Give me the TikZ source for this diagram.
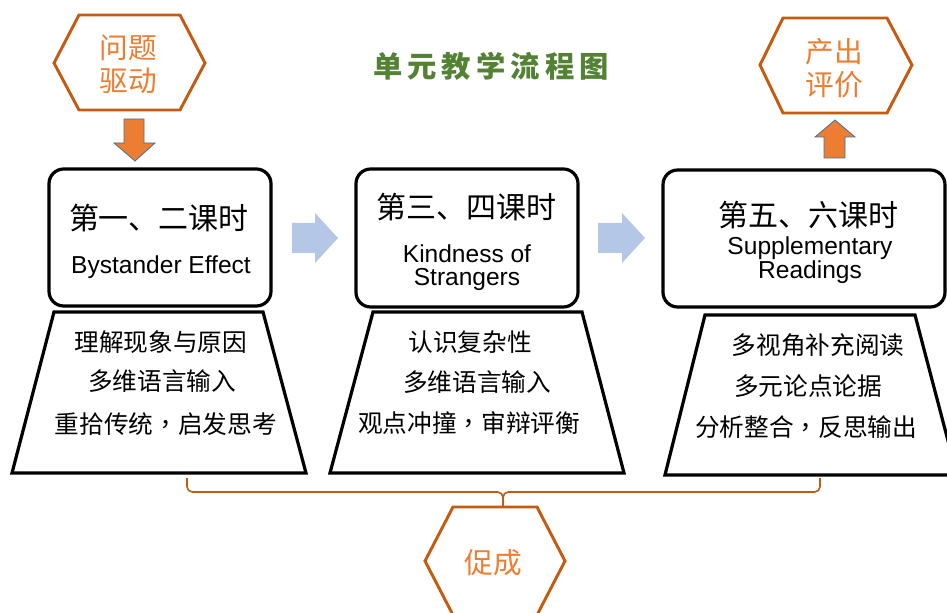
\documentclass[tikz,border=0pt]{standalone}
\usepackage{fontspec}
\setmainfont{Liberation Sans}
\newfontfamily\cjk{Noto Sans CJK SC}
\newfontfamily\cjktc{Noto Sans CJK TC}
\newcommand{\midcomma}{{\cjktc ，}}
\definecolor{hexline}{HTML}{C55A11}
\definecolor{hextext}{HTML}{ED7D31}
\definecolor{arrfill}{HTML}{ED7D31}
\definecolor{arrline}{HTML}{41719C}
\definecolor{bluearr}{HTML}{B4C7E7}
\definecolor{titlegreen}{HTML}{548235}
\tikzset{
  boxline/.style={draw=black, line width=2.4pt, rounded corners=11pt, fill=white},
  trapline/.style={draw=black, line width=2.4pt, fill=white},
  hexshape/.style={draw=hexline, line width=2.2pt, fill=white},
  hexlabel/.style={text=hextext, align=center, inner sep=0pt, font=\cjk\fontsize{21.5pt}{24.5pt}\selectfont},
  headtext/.style={inner sep=0pt, font=\cjk\fontsize{22.5pt}{26pt}\selectfont},
  entext/.style={inner sep=0pt, align=center, font=\fontsize{18.4pt}{17.5pt}\selectfont},
  traptext/.style={inner sep=0pt, font=\cjk\fontsize{18.5pt}{22pt}\selectfont},
  blockarrow/.style={fill=bluearr, draw=none},
  orangearrow/.style={fill=arrfill, draw=arrline, line width=0.6pt},
  bracelink/.style={draw=hexline, line width=1.2pt, rounded corners=4pt},
}
\begin{document}
\begin{tikzpicture}[x=0.75pt, y=-0.75pt]
\useasboundingbox (0,0) rectangle (947,613);
\clip (0,0) rectangle (947,613);
\fill[white] (0,0) rectangle (947,613);

% title
\node[inner sep=0pt, text=titlegreen, font=\cjk\bfseries\fontsize{22pt}{24pt}\selectfont] (title) at (491,66)
  {单\kern3.8pt 元\kern3.8pt 教\kern3.8pt 学\kern3.8pt 流\kern3.8pt 程\kern3.8pt 图};

% hexagon 1
\draw[hexshape] (54,63) -- (79,15) -- (180,15) -- (205,63) -- (180,110) -- (79,110) -- cycle;
\node[hexlabel] (hexA) at (128,64) {问题\\驱动};
% down arrow
\draw[orangearrow] (124,119) -- (144,119) -- (144,143) -- (155,143) -- (135,161) -- (114,143) -- (124,143) -- cycle;

% hexagon 2
\draw[hexshape] (760,65) -- (783,18) -- (887,18) -- (912,65) -- (887,113) -- (783,113) -- cycle;
\node[hexlabel] (hexB) at (834,68.5) {产出\\评价};
% up arrow
\draw[orangearrow] (824,158) -- (845,158) -- (845,137) -- (855,137) -- (835,120) -- (815,137) -- (824,137) -- cycle;

% trapezoids
\draw[trapline] (54,312) -- (263,312) -- (306,473) -- (12,473) -- cycle;
\draw[trapline] (373,312) -- (582,312) -- (624,473) -- (330,473) -- cycle;
\draw[trapline] (705,315) -- (915,315) -- (957,475) -- (665,475) -- cycle;

% boxes
\draw[boxline] (49,169) rectangle (271,306);
\draw[boxline] (356,169) rectangle (578,307);
\draw[boxline] (663,170) rectangle (945,307);

% box texts
\node[headtext] (h1) at (159,218) {第一、二课时};
\node[entext] (e1) at (161,267) {Bystander Effect};
\node[headtext] (h2) at (466,207) {第三、四课时};
\node[entext] (e2) at (467,267.5) {Kindness of\\Strangers};
\node[headtext] (h3) at (808,215) {第五、六课时};
\node[entext] (e3) at (810,260) {Supplementary\\Readings};

% trapezoid texts
\node[traptext] (t1a) at (161,342) {理解现象与原因};
\node[traptext] (t1b) at (162,381) {多维语言输入};
\node[traptext] (t1c) at (166,424) {重拾传统\midcomma 启发思考};
\node[traptext] (t2a) at (470,342) {认识复杂性};
\node[traptext] (t2b) at (477,382) {多维语言输入};
\node[traptext] (t2c) at (469,423) {观点冲撞\midcomma 审辩评衡};
\node[traptext] (t3a) at (818,345) {多视角补充阅读};
\node[traptext] (t3b) at (808,386) {多元论点论据};
\node[traptext] (t3c) at (806,427) {分析整合\midcomma 反思输出};

% blue block arrows
\fill[blockarrow] (292,223) -- (315,223) -- (315,213) -- (338,238) -- (315,263) -- (315,253) -- (292,253) -- cycle;
\fill[blockarrow] (598,223) -- (622,223) -- (622,213) -- (645,238) -- (622,263) -- (622,253) -- (598,253) -- cycle;

% brace
\coordinate (braceL) at (187,478);
\coordinate (braceR) at (820,478);
\coordinate (braceM) at (503,507);
\draw[bracelink] (braceL) -- (187,492) -- (503,492) -- (braceM);
\draw[bracelink] (braceR) -- (820,492) -- (503,492) -- (braceM);

% hexagon 3
\draw[hexshape] (425,561) -- (453,507) -- (537,507) -- (565,561) -- (537,615) -- (453,615) -- cycle;
\node[hexlabel] (hexC) at (493,563) {促成};
\end{tikzpicture}
\end{document}
